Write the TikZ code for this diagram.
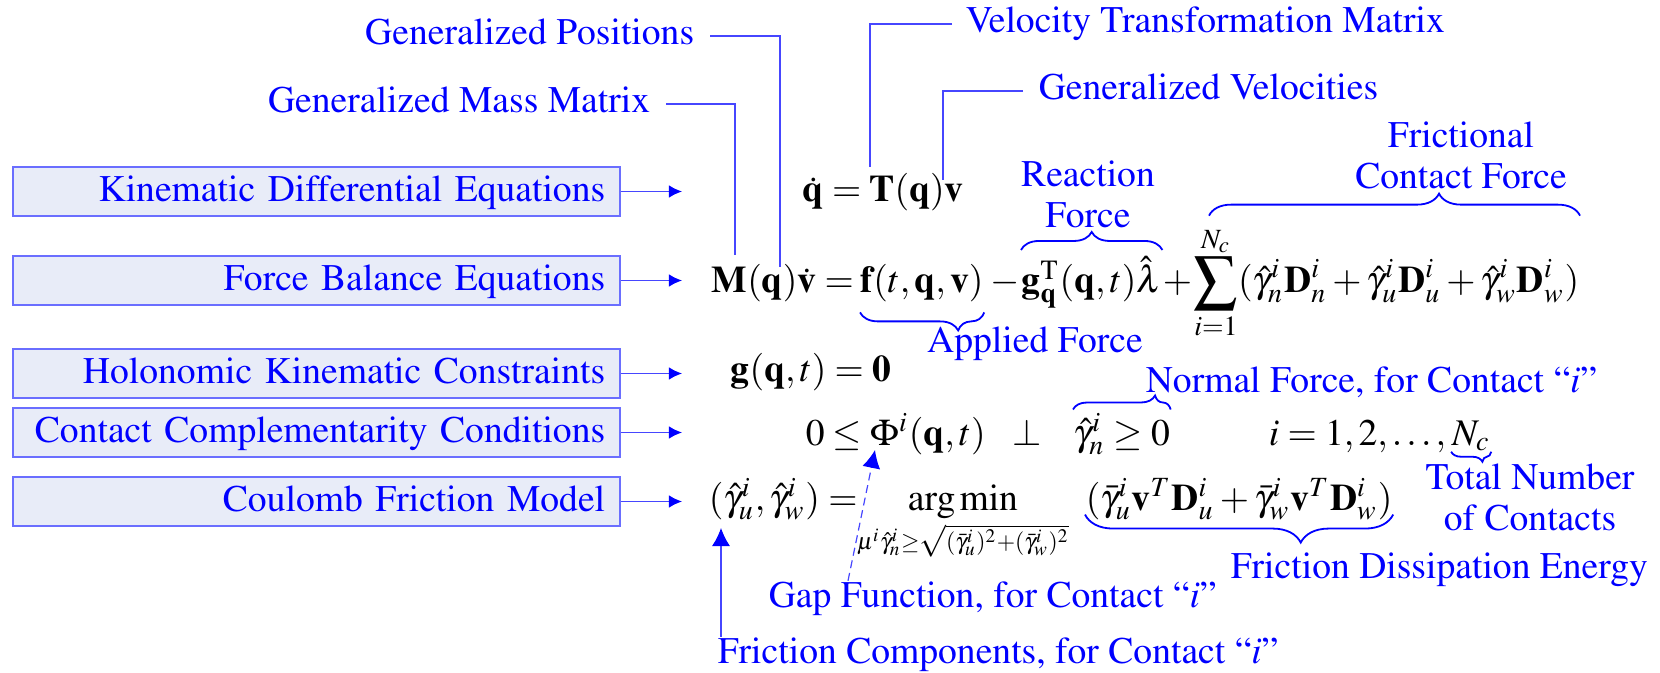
\documentclass[tikz,border=0pt]{standalone}
\usepackage[T1]{fontenc}
\usepackage{mathptmx}
\usepackage{graphicx}
\usetikzlibrary{arrows.meta,decorations.pathreplacing}

\definecolor{lblblue}{RGB}{0,0,255}
\definecolor{boxfill}{RGB}{232,236,248}
\definecolor{boxline}{RGB}{106,110,255}
\definecolor{leadblue}{RGB}{70,70,255}

\newcommand{\bigsum}{\mathop{\vcenter{\hbox{\scalebox{1.15}{$\displaystyle\sum$}}}}\limits}

\begin{document}
\begin{tikzpicture}[x=0.25pt,y=-0.25pt,
	every node/.style={inner sep=0pt,font=\fontsize{9.4}{10.25}\selectfont},
	lbl/.style={text=lblblue},
	tag/.style={lbl,text height=6.4pt,text depth=1.9pt},
	eqbox/.style={draw=boxline,fill=boxfill,line width=0.4pt,anchor=east,
		minimum width=151.75pt,minimum height=12.25pt,text width=144.25pt,
		inner xsep=3.75pt,align=right,text=lblblue,text height=6.9pt,text depth=1.7pt},
	eq/.style={anchor=base west},
	lead/.style={leadblue,line width=0.3pt},
	toeq/.style={leadblue,line width=0.35pt,-{Latex[length=3.3pt,width=3.2pt,color=lblblue]}},
	gaparr/.style={leadblue,line width=0.3pt,dash pattern=on 2pt off 1.2pt,-{Latex[length=4.5pt,width=4.5pt,color=lblblue]}},
	comparr/.style={leadblue,line width=0.3pt,-{Latex[length=4.5pt,width=4.5pt,color=lblblue]}},
	brc/.style={draw=lblblue,line width=0.45pt,decorate}]
			\useasboundingbox (0,0) rectangle (1660,673);
			% left-hand boxes
			\node[eqbox] (kin) at (621,191.5) {Kinematic Differential Equations};
			\node[eqbox] (bal) at (621,280.5) {Force Balance Equations};
			\node[eqbox] (hol) at (621,373.5) {Holonomic Kinematic Constraints};
			\node[eqbox] (ccc) at (621,432.5) {Contact Complementarity Conditions};
			\node[eqbox] (cfm) at (621,501.5) {Coulomb Friction Model};
			\draw[toeq] (kin.east) -- +(61,0);
			\draw[toeq] (bal.east) -- +(61,0);
			\draw[toeq] (hol.east) -- +(61,0);
			\draw[toeq] (ccc.east) -- +(61,0);
			\draw[toeq] (cfm.east) -- +(61,0);
			% equations
			\node[eq] (kde) at (802,202) {$\dot{\mathbf{q}}=\mathbf{T}(\mathbf{q})\mathbf{v}$};
			\node[eq] (mv) at (711,293) {$\mathbf{M}(\mathbf{q})\dot{\mathbf{v}}=$};
			\node[eq] (fapp) at (860,293) {$\mathbf{f}(t,\mathbf{q},\mathbf{v})$};
			\node[eq] (mns) at (990,293) {$-$};
			\node[eq] (react) at (1021,293) {$\mathbf{g}_{\mathbf{q}}^{\mathrm{T}}(\mathbf{q},t)\hat{\lambda}$};
			\node[eq] (pls) at (1162,293) {$+$};
			\node[eq] (fric) at (1193,293) {$\displaystyle\bigsum_{i=1}^{N_c}(\hat{\gamma}_n^i\mathbf{D}_n^i+\hat{\gamma}_u^i\mathbf{D}_u^i+\hat{\gamma}_w^i\mathbf{D}_w^i)$};
			\node[eq] (hkc) at (730,382) {$\mathbf{g}(\mathbf{q},t)=\mathbf{0}$};
			\node[eq] (gapc) at (805,445) {$0\le\Phi^i(\mathbf{q},t)$};
			\node[eq] (perp) at (1012,445) {$\perp$};
			\node[eq] (nrm) at (1073,445) {$\hat{\gamma}_n^i\ge 0$};
			\node[eq] (idx) at (1268,445) {$i=1{,}\,2{,}\ldots{,}\,$};
			\node[eq] (nc) at (idx.base east) {$N_c$};
			\node[eq] (fcv) at (708,510) {$(\hat{\gamma}_u^i,\hat{\gamma}_w^i)=$};
			\node[anchor=base] (amin) at (963,510) {$\displaystyle\mathop{\mathrm{arg\,min}}_{\scalebox{0.85}{$\scriptstyle\mu^i\hat{\gamma}_n^i\ge\sqrt{(\bar{\gamma}_u^i)^2+(\bar{\gamma}_w^i)^2}$}}$};
			\node[eq] (diss) at (1085,510) {$(\bar{\gamma}_u^i\mathbf{v}^T\mathbf{D}_u^i+\bar{\gamma}_w^i\mathbf{v}^T\mathbf{D}_w^i)$};
			% braces
			\draw[brc,decoration={brace,mirror,amplitude=4.5pt,aspect=0.79}] ([yshift=-2.3pt]fapp.south west) -- ([yshift=-2.3pt]fapp.south east);
			\draw[brc,decoration={brace,amplitude=4.5pt,aspect=0.5}] ([yshift=1.5pt]react.north west) -- ([yshift=1.5pt]react.north east);
			\draw[brc,decoration={brace,amplitude=5.5pt,aspect=0.62}] ([xshift=4pt,yshift=2.5pt]fric.north west) -- ([yshift=2.5pt]fric.north east);
			\draw[brc,decoration={brace,amplitude=3.5pt,aspect=0.84}] ([yshift=0.75pt]nrm.north west) -- ([yshift=0.75pt]nrm.north east);
			\draw[brc,decoration={brace,mirror,amplitude=2.5pt,aspect=0.78}] (nc.south west) -- (nc.south east);
			\draw[brc,decoration={brace,mirror,amplitude=7pt,aspect=0.7}] ([yshift=1.5pt]diss.south west) -- ([yshift=1.5pt]diss.south east);
			% labels
			\node[lbl,anchor=south,align=center] (reactlbl) at (1088,229) {Reaction\\Force};
			\node[lbl,anchor=south,align=center] (friclbl) at (1461,190) {Frictional\\Contact Force};
			\node[lbl,anchor=base] (applbl) at (1035,353) {Applied Force};
			\node[lbl,anchor=base west] (nrmlbl) at (1145,392) {Normal Force, for Contact ``\textit{i}''};
			\node[lbl,anchor=south,align=center] (nclbl) at (1530,532) {Total Number\\of Contacts};
			\node[lbl,anchor=base west] (disslbl) at (1230,578) {Friction Dissipation Energy};
			\node[lbl,anchor=base west] (gaplbl) at (768,607) {Gap Function, for Contact ``\textit{i}''};
			\node[lbl,anchor=base west] (fcomplbl) at (717,663) {Friction Components, for Contact ``\textit{i}''};
			\node[tag,anchor=base east] (genpos) at (695,45) {Generalized Positions};
			\node[tag,anchor=base east] (genmass) at (651,113) {Generalized Mass Matrix};
			\node[tag,anchor=base west] (vtm) at (965,33) {Velocity Transformation Matrix};
			\node[tag,anchor=base west] (genvel) at (1038,100) {Generalized Velocities};
			% leaders and pointers
			\coordinate (posEnd) at (780,267);
			\coordinate (massEnd) at (735,255);
			\coordinate (tEnd) at (870,167);
			\coordinate (vEnd) at (943,180);
			\coordinate (phiTip) at (875,450);
			\coordinate (fcTip) at (721,528);
			\draw[lead] ([xshift=3.75pt]genpos.east) -| (posEnd);
			\draw[lead] ([xshift=3.75pt]genmass.east) -| (massEnd);
			\draw[lead] ([xshift=-3.25pt]vtm.west) -| (tEnd);
			\draw[lead] ([xshift=-3.75pt]genvel.west) -| (vEnd);
			\draw[gaparr] ([xshift=20pt]gaplbl.north west) -- (phiTip);
			\draw[comparr] ([xshift=1pt]fcomplbl.north west) -- (fcTip);
		\end{tikzpicture}
\end{document}
